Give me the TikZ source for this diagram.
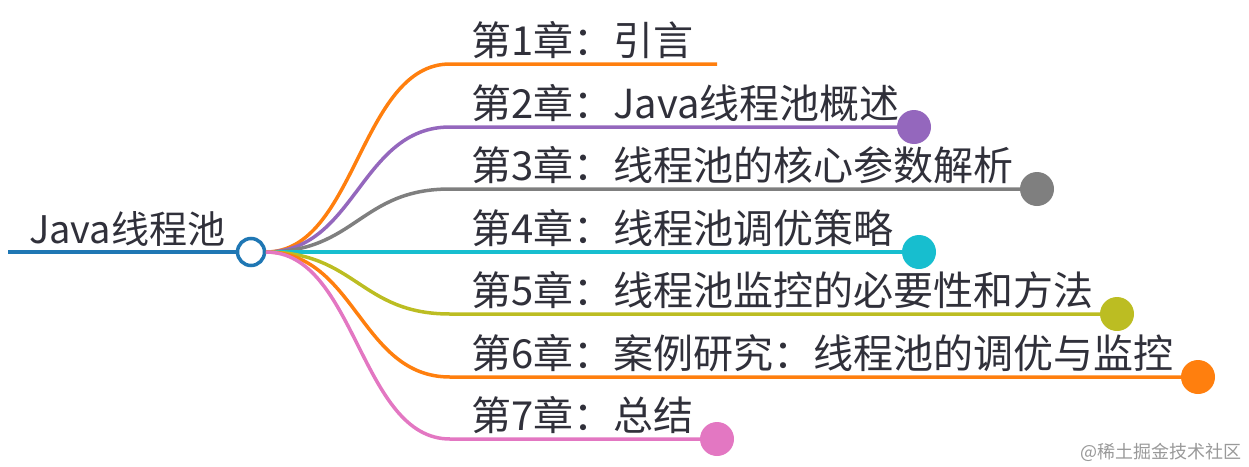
\documentclass[tikz,border=0pt]{standalone}
\usepackage{fontspec}
\setmainfont{Noto Sans CJK SC}
\definecolor{cblue}{HTML}{1F77B4}
\definecolor{corange}{HTML}{FF7F0E}
\definecolor{cpurple}{HTML}{9467BD}
\definecolor{cgray}{HTML}{7F7F7F}
\definecolor{ccyan}{HTML}{17BECF}
\definecolor{colive}{HTML}{BCBD22}
\definecolor{cpink}{HTML}{E377C2}
\definecolor{ctext}{HTML}{30303A}
\begin{document}
\begin{tikzpicture}[x=1pt,y=-1pt,
  lab/.style={anchor=base west,inner sep=0pt,text=ctext,font=\fontsize{40}{46}\selectfont},
  branch/.style={line width=3.5pt},
  dot/.style={circle,inner sep=0pt,minimum size=34pt},
  rootdot/.style={circle,draw=cblue,line width=3.5pt,fill=white,inner sep=0pt,minimum size=27pt}]
\useasboundingbox (0,0) rectangle (1249,466);
% root
\node[rootdot] (rc) at (251,252) {};
\coordinate (r0) at (8,252);
\coordinate (s) at (266,252);
\node[lab,font=\fontsize{38}{44}\selectfont] (rt) at (29,243) {Java线程池};
% endpoints
\coordinate (k1) at (450,64);
\coordinate (k2) at (450,127);
\coordinate (k3) at (450,189);
\coordinate (k4) at (450,252);
\coordinate (k5) at (450,314);
\coordinate (k6) at (450,377);
\coordinate (k7) at (450,439);
\coordinate (e1) at (717,64);
\node[dot,fill=cpurple] (d2) at (914,127) {};
\node[dot,fill=cgray] (d3) at (1037,189) {};
\node[dot,fill=ccyan] (d4) at (919,252) {};
\node[dot,fill=colive] (d5) at (1117,314) {};
\node[dot,fill=corange] (d6) at (1198,377) {};
\node[dot,fill=cpink] (d7) at (717,439) {};
% lines
\draw[cblue,line width=4.5pt] (r0) -- (rc.west);
\draw[branch,corange] (s) .. controls +(90,0) and +(-90,0) .. (k1) -- (e1);
\draw[branch,cpurple] (s) .. controls +(90,0) and +(-90,0) .. (k2) -- (d2.west);
\draw[branch,cgray] (s) .. controls +(90,0) and +(-90,0) .. (k3) -- (d3.west);
\draw[branch,ccyan] (s) -- (k4) -- (d4.west);
\draw[branch,colive] (s) .. controls +(90,0) and +(-90,0) .. (k5) -- (d5.west);
\draw[branch,corange] (s) .. controls +(90,0) and +(-90,0) .. (k6) -- (d6.west);
\draw[branch,cpink] (s) .. controls +(90,0) and +(-90,0) .. (k7) -- (d7.west);
% labels
\node[lab] (t1) at (471,55) {第1章：引言};
\node[lab] (t2) at (471,118) {第2章：Java线程池概述};
\node[lab] (t3) at (471,180) {第3章：线程池的核心参数解析};
\node[lab] (t4) at (471,243) {第4章：线程池调优策略};
\node[lab] (t5) at (471,305) {第5章：线程池监控的必要性和方法};
\node[lab] (t6) at (471,368) {第6章：案例研究：线程池的调优与监控};
\node[lab] (t7) at (471,430) {第7章：总结};
\node[anchor=east,inner sep=0pt,text=black!40,font=\fontsize{18}{20}\selectfont] (wm) at (1242,452) {@稀土掘金技术社区};
\end{tikzpicture}
\end{document}
